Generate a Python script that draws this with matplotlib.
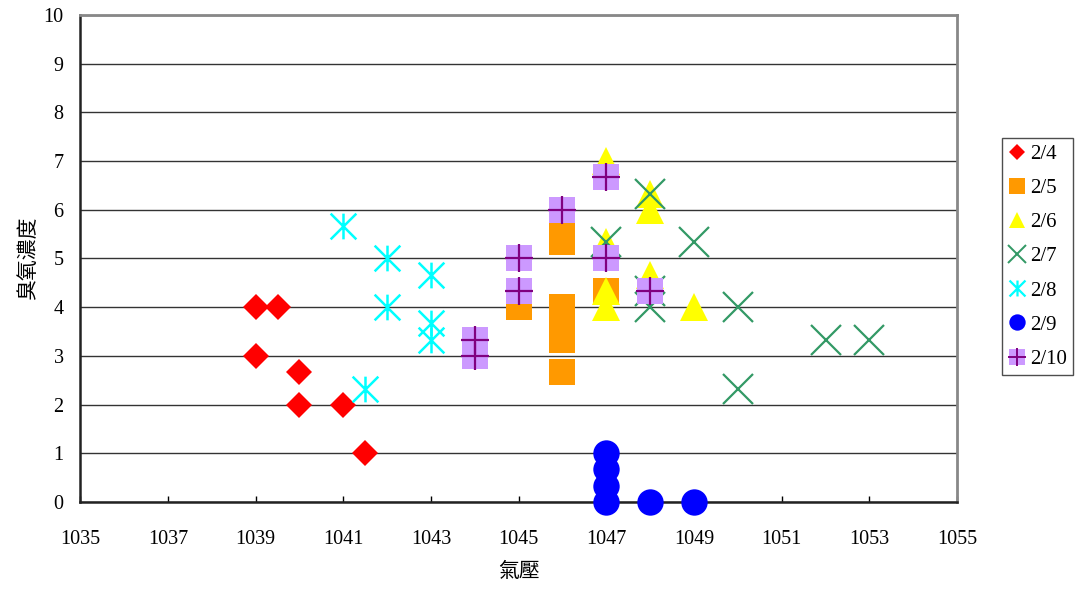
import matplotlib.pyplot as plt
from matplotlib.path import Path
from matplotlib.lines import Line2D

plt.rcParams['font.family'] = ['Liberation Serif', 'Noto Sans CJK TC']

# 2/4
p_0204 = [1039, 1039.5, 1039, 1040, 1040, 1041, 1041.5]
o_0204 = [4, 4, 3, 2.67, 2, 2, 1]
# 2/5
p_0205 = [1045, 1046, 1046, 1046, 1046, 1046, 1046, 1046, 1047]
o_0205 = [4, 6, 5.67, 5.33, 4, 3.67, 3.33, 2.67, 4.33]
# 2/6
p_0206 = [1047, 1048, 1048, 1047, 1048, 1047, 1047, 1049]
o_0206 = [7, 6.33, 6, 5.33, 4.67, 4.33, 4, 4]
# 2/7
p_0207 = [1048, 1047, 1049, 1048, 1048, 1050, 1052, 1053, 1050]
o_0207 = [6.33, 5.33, 5.33, 4.33, 4, 4, 3.33, 3.33, 2.33]
# 2/8
p_0208 = [1041, 1042, 1042, 1043, 1043, 1043, 1041.5]
o_0208 = [5.67, 5, 4, 4.67, 3.67, 3.33, 2.33]
# 2/9
p_0209 = [1047, 1047, 1047, 1047, 1048, 1049]
o_0209 = [1, 0.67, 0.33, 0, 0, 0]
# 2/10
p_0210 = [1044, 1044, 1045, 1045, 1046, 1047, 1047, 1048]
o_0210 = [3.33, 3, 5, 4.33, 6, 6.67, 5, 4.33]

x_ticks = [1035, 1037, 1039, 1041, 1043, 1045, 1047, 1049, 1051, 1053, 1055]
y_ticks = list(range(0, 11))

# star made of a vertical bar and two diagonals
star = Path([(0, -1), (0, 1), (-1, -1), (1, 1), (-1, 1), (1, -1)],
            [Path.MOVETO, Path.LINETO] * 3)

fig = plt.figure(figsize=(10.77, 5.9), dpi=100)
ax = fig.add_axes([0.0745, 0.1492, 0.8141, 0.8254])

styles = {
    '2/4': dict(marker='D', color='#FF0000', ms=13, mew=0),
    '2/5': dict(marker='s', color='#FF9900', ms=19, mew=0),
    '2/6': dict(marker='^', color='#FFFF00', ms=19.5, mew=0),
    '2/7': dict(marker='x', color='#339966', ms=22, mew=1.6),
    '2/8': dict(marker=star, color='#00FFFF', ms=18.5, mew=1.8),
    '2/9': dict(marker='o', color='#0000FF', ms=19, mew=0),
}
series = [('2/4', p_0204, o_0204), ('2/5', p_0205, o_0205),
          ('2/6', p_0206, o_0206), ('2/7', p_0207, o_0207),
          ('2/8', p_0208, o_0208), ('2/9', p_0209, o_0209)]

handles = []
for name, px, oz in series:
    st = styles[name]
    ax.plot(px, oz, ls='none', zorder=3, clip_on=False, **st)
    leg_st = dict(st)
    leg_st['ms'] = st['ms'] * 0.62
    leg_st['mew'] = st['mew'] * 0.9
    handles.append(Line2D([], [], ls='none', **leg_st))

ax.plot(p_0210, o_0210, ls='none', marker='s', color='#CC99FF', ms=19, mew=0,
        zorder=4, clip_on=False)
ax.plot(p_0210, o_0210, ls='none', marker='+', color='#800080', ms=20, mew=1.6,
        zorder=5, clip_on=False)
handles.append((Line2D([], [], ls='none', marker='s', color='#CC99FF', ms=12, mew=0),
                Line2D([], [], ls='none', marker='+', color='#800080', ms=12.5, mew=1.4)))
labels = ['2/4', '2/5', '2/6', '2/7', '2/8', '2/9', '2/10']

ax.set_xlim(1035, 1055)
ax.set_ylim(0, 10)
ax.set_xticks(x_ticks)
ax.set_yticks(y_ticks)
ax.tick_params(axis='x', direction='in', length=4, width=1, labelsize=14.5, pad=20)
ax.tick_params(axis='y', length=0, labelsize=14.5, pad=12)
ax.yaxis.grid(True, color='#333333', lw=1)
ax.set_axisbelow(True)

for s in ('left', 'bottom'):
    ax.spines[s].set_color('#222222')
    ax.spines[s].set_linewidth(1.8)
for s in ('top', 'right'):
    ax.spines[s].set_color('#888888')
    ax.spines[s].set_linewidth(2)

ax.set_xlabel('氣壓', family=['Noto Sans CJK TC'], fontsize=15, labelpad=8)
ax.set_ylabel('臭氧濃度', family=['Noto Sans CJK TC'], fontsize=15, labelpad=3)

leg = fig.legend(handles, labels, loc='upper left', bbox_to_anchor=(0.9304, 0.766),
                 fontsize=15, frameon=True, fancybox=False, borderpad=0.3,
                 labelspacing=0.7, handlelength=0.8, handletextpad=0.25,
                 borderaxespad=0)
leg.get_frame().set_edgecolor('#222222')
leg.get_frame().set_linewidth(1)

fig.savefig('out.png', dpi=100)
